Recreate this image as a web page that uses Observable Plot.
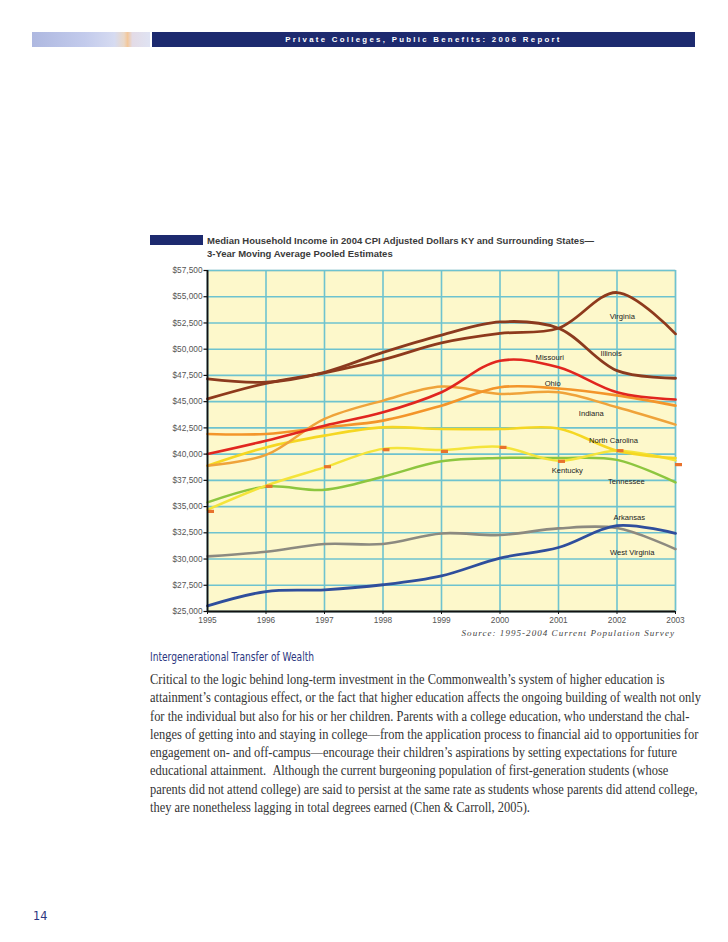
<!DOCTYPE html>
<html>
<head>
<meta charset="utf-8">
<script src="https://cdn.jsdelivr.net/npm/d3@7"></script>
<script src="https://cdn.jsdelivr.net/npm/@observablehq/plot@0.6"></script>
<style>
  html, body { margin: 0; padding: 0; background: #fff; }
  body { width: 728px; height: 942px; position: relative; overflow: hidden; font-family: "Liberation Sans", Arial, sans-serif; }
  .abs { position: absolute; }
  #hdrGrad { left: 32px; top: 32px; width: 118px; height: 15px;
    background: linear-gradient(90deg, #aeb8e0 0%, #c3cbec 45%, #d6dbf1 70%, #ead8c8 78%, #f3c79a 81%, #e3dbe6 85%, #dfe3f3 100%); }
  #hdrBar { left: 152px; top: 32px; width: 543px; height: 15px; background: #1d2a6f; color: #fff;
    font: bold 7.8px "Liberation Sans", Arial, sans-serif; letter-spacing: 2.3px; line-height: 15px; text-align: center; }
  #titleRect { left: 150px; top: 235px; width: 53px; height: 10px; background: #1d2a6f; }
  #title { left: 207px; top: 235px; font: bold 9.5px "Liberation Sans", Arial, sans-serif; color: #3a3a3a; line-height: 12.5px; white-space: nowrap; }
  #chart { left: 0; top: 260px; }
  #source { right: 53px; top: 628px; font: italic 9px "Liberation Serif", "Times New Roman", serif; letter-spacing: 1.05px; color: #444; white-space: nowrap; }
  #heading { left: 150px; top: 649px; font: 13px "Liberation Sans Narrow", "DejaVu Sans Condensed", "Liberation Sans", sans-serif; font-stretch: condensed; color: #2b3680; white-space: nowrap; transform-origin: left top; }
  #para { left: 150px; top: 671px; font: 13.6px "Liberation Serif", "Times New Roman", serif; color: #333; line-height: 18.3px; white-space: nowrap; transform-origin: left top; }
  #pageno { left: 33px; top: 908px; font: 12.5px "Liberation Sans Narrow", "DejaVu Sans Condensed", "Liberation Sans", sans-serif; color: #2b3680; }
</style>
</head>
<body>
<div id="hdrGrad" class="abs"></div>
<div id="hdrBar" class="abs">Private Colleges, Public Benefits: 2006 Report</div>
<div id="titleRect" class="abs"></div>
<div id="title" class="abs">Median Household Income in 2004 CPI Adjusted Dollars KY and Surrounding States—<br>3-Year Moving Average Pooled Estimates</div>
<div id="chart" class="abs"></div>
<div id="source" class="abs">Source: 1995-2004 Current Population Survey</div>
<div id="heading" class="abs">Intergenerational Transfer of Wealth</div>
<div id="para" class="abs"></div>
<div id="pageno" class="abs">14</div>
<script>
// ---- data ----
const years = [1995, 1996, 1997, 1998, 1999, 2000, 2001, 2002, 2003];
const yTicks = [25000, 27500, 30000, 32500, 35000, 37500, 40000, 42500, 45000, 47500, 50000, 52500, 55000, 57500];

const virginia      = [45260, 46750, 47750, 49000, 50600, 51500, 52000, 55400, 51460];
const illinois      = [47170, 46850, 47800, 49700, 51350, 52600, 52000, 47960, 47230];
const missouri      = [40010, 41280, 42710, 43980, 45900, 48900, 48280, 45900, 45200];
const ohio          = [41920, 41920, 42550, 43190, 44620, 46370, 46250, 45600, 44620];
const indiana       = [38900, 39920, 43350, 45100, 46440, 45740, 45900, 44460, 42810];
const northCarolina = [38900, 40640, 41760, 42550, 42390, 42390, 42450, 40330, 39630];
const kentucky      = [34700, 37000, 38740, 40500, 40390, 40700, 39370, 40330, 39400];
const kentuckyAnnual= [34540, 36930, 38800, 40420, 40260, 40640, 39310, 40330, 39000];
const tennessee     = [35400, 36900, 36600, 37850, 39310, 39630, 39630, 39450, 37310];
const arkansas      = [25540, 26900, 27070, 27550, 28400, 30090, 31100, 33180, 32440];
const westVirginia  = [30250, 30690, 31430, 31430, 32440, 32290, 32920, 32950, 30950];

const labelNames = ["Virginia", "Illinois", "Missouri", "Ohio", "Indiana", "North Carolina", "Kentucky", "Tennessee", "Arkansas", "West Virginia"];
const labelYears = [2002.09, 2001.9, 2000.85, 2000.9, 2001.56, 2001.94, 2001.15, 2002.16, 2002.21, 2002.26];
const labelValues = [53110, 49580, 49200, 46700, 43830, 41250, 38420, 37400, 33970, 30630];

const paragraphLines = [
  "Critical to the logic behind long-term investment in the Commonwealth’s system of higher education is",
  "attainment’s contagious effect, or the fact that higher education affects the ongoing building of wealth not only",
  "for the individual but also for his or her children. Parents with a college education, who understand the chal-",
  "lenges of getting into and staying in college—from the application process to financial aid to opportunities for",
  "engagement on- and off-campus—encourage their children’s aspirations by setting expectations for future",
  "educational attainment.  Although the current burgeoning population of first-generation students (whose",
  "parents did not attend college) are said to persist at the same rate as students whose parents did attend college,",
  "they are nonetheless lagging in total degrees earned (Chen & Carroll, 2005)."
];

// ---- series styling ----
const seriesList = [
  {name: "West Virginia", values: westVirginia, color: "#8c8a80", w: 2.6},
  {name: "Arkansas", values: arkansas, color: "#2f4e9c", w: 2.8},
  {name: "Tennessee", values: tennessee, color: "#8dc63f", w: 2.5},
  {name: "Kentucky", values: kentucky, color: "#f4e43a", w: 2.5},
  {name: "North Carolina", values: northCarolina, color: "#f5d722", w: 2.6},
  {name: "Indiana", values: indiana, color: "#efa33a", w: 2.5},
  {name: "Ohio", values: ohio, color: "#f3952a", w: 2.6},
  {name: "Missouri", values: missouri, color: "#e1261f", w: 2.6},
  {name: "Virginia", values: virginia, color: "#8e3a1c", w: 2.8},
  {name: "Illinois", values: illinois, color: "#8b3a1e", w: 2.8}
];

const rows = seriesList.flatMap(s => years.map((yr, i) => ({state: s.name, year: yr, value: s.values[i]})));
const kyMarks = years.map((yr, i) => ({year: yr, value: kentuckyAnnual[i]}));
const labels = labelNames.map((n, i) => ({name: n, year: labelYears[i], value: labelValues[i]}));

const dashSymbol = { draw(ctx, size) { ctx.rect(-3.5, -1.6, 7, 3.2); } };
const fmt = d3.format("$,");

const chart = Plot.plot({
  width: 728,
  height: 381,
  marginLeft: 207,
  marginRight: 53,
  marginTop: 10,
  marginBottom: 30,
  style: {fontFamily: "Liberation Sans, Arial, sans-serif", fontSize: "8.3px", color: "#555", background: "transparent"},
  x: {domain: [1995, 2003], label: null},
  y: {domain: [25000, 57500], label: null},
  marks: [
    Plot.frame({fill: "#fdf8cb", stroke: "#9a9a90", strokeWidth: 1.2}),
    Plot.gridX(years, {stroke: "#6ec3cf", strokeOpacity: 1, strokeWidth: 1.6}),
    Plot.gridY(yTicks, {stroke: "#6ec3cf", strokeOpacity: 1, strokeWidth: 1.6}),
    ...seriesList.map(s => Plot.line(rows.filter(r => r.state === s.name), {
      x: "year", y: "value", stroke: s.color, strokeWidth: s.w, curve: "catmull-rom"
    })),
    Plot.dot(kyMarks, {x: "year", y: "value", symbol: dashSymbol, fill: "#e8722c", stroke: "none", dx: 3}),
    Plot.ruleX([1995], {stroke: "#111", strokeWidth: 1.8}),
    Plot.ruleY([25000], {stroke: "#111", strokeWidth: 1.8}),
    Plot.axisY({ticks: yTicks, tickFormat: fmt, tickSize: 3.5, tickPadding: 1.5, stroke: "#111", fill: "#555", strokeWidth: 1.2}),
    Plot.axisX({ticks: years, tickFormat: d => String(d), tickSize: 3, tickPadding: 3, stroke: "#111", fill: "#555"}),
    Plot.text(labels, {x: "year", y: "value", text: "name", fontSize: 7.6, fill: "#222", fontFamily: "Liberation Sans, Arial, sans-serif"})
  ]
});
document.getElementById("chart").appendChild(chart);

// paragraph
const para = document.getElementById("para");
para.innerHTML = paragraphLines.map(l => `<div>${l.replace(/&/g, "&amp;").replace(/  /g, " &nbsp;")}</div>`).join("");
const measureLine = para.children[6];
const natural = measureLine.getBoundingClientRect().width;
para.style.transform = `scaleX(${551 / natural})`;
const head = document.getElementById("heading");
const hw = head.getBoundingClientRect().width;
head.style.transform = `scaleX(${164 / hw})`;
</script>
</body>
</html>
